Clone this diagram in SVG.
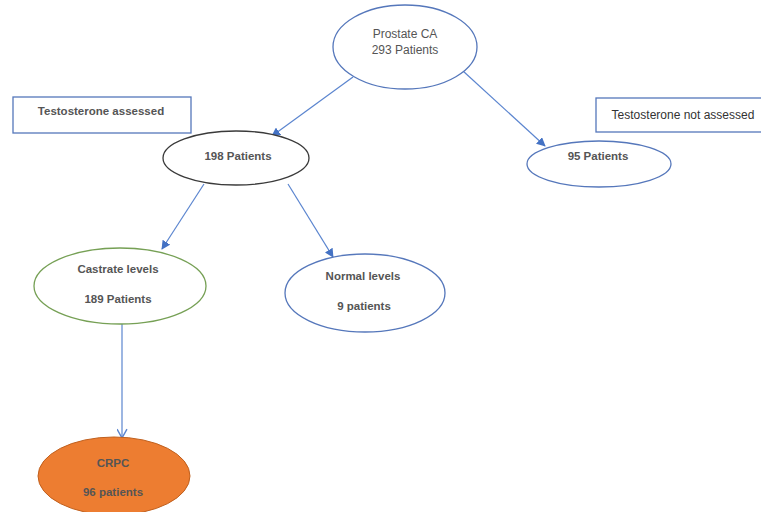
<svg xmlns="http://www.w3.org/2000/svg" width="761" height="512" viewBox="0 0 761 512">
<style>
  .bg{fill:#ffffff}
  .node{fill:#ffffff;stroke-width:1.3}
  .blue{stroke:#5577bb}
  .green{stroke:#76a055}
  .dark{stroke:#3a3a3a}
  .box{fill:#ffffff;stroke:#5577bb;stroke-width:1.3}
  .t{font-family:"Liberation Sans",Arial,sans-serif;font-size:11.5px;fill:#555555;text-anchor:middle}
  .r{font-size:12px}
  .b{font-weight:bold}
  .conn line{stroke:#5b85cf;stroke-width:1.2;fill:none}
</style>
<defs>
  <marker id="ah" viewBox="0 0 10 10" refX="9" refY="5" markerWidth="9" markerHeight="9" markerUnits="userSpaceOnUse" orient="auto">
    <path d="M0,0 L10,5 L0,10 z" fill="#4472c4"/>
  </marker>
  <marker id="av" viewBox="0 0 10 10" refX="9" refY="5" markerWidth="11" markerHeight="11" markerUnits="userSpaceOnUse" orient="auto">
    <path d="M1,0.5 L9,5 L1,9.5" fill="none" stroke="#5b85cf" stroke-width="1.3"/>
  </marker>
</defs>
<rect class="bg" x="0" y="0" width="761" height="512"/>

<g id="connectors" class="conn">
  <line x1="353" y1="77" x2="272" y2="136" marker-end="url(#ah)"/>
  <line x1="463" y1="71" x2="545" y2="146" marker-end="url(#ah)"/>
  <line x1="204" y1="184" x2="162" y2="249" marker-end="url(#ah)"/>
  <line x1="288" y1="184" x2="333" y2="257" marker-end="url(#ah)"/>
  <line x1="122" y1="324" x2="122" y2="438" marker-end="url(#av)"/>
</g>

<g id="prostate">
  <ellipse class="node blue" cx="405" cy="47" rx="72" ry="42"/>
  <text class="t r" x="405" y="38">Prostate CA</text>
  <text class="t r" x="405" y="54">293 Patients</text>
</g>

<g id="label-assessed">
  <rect class="box" x="13" y="97" width="178" height="36"/>
  <text class="t b" x="101" y="115">Testosterone assessed</text>
</g>

<g id="label-not-assessed">
  <rect class="box" x="596" y="98" width="175" height="34"/>
  <text class="t r" x="683" y="119" style="fill:#333333">Testosterone not assessed</text>
</g>

<g id="n198">
  <ellipse class="node dark" cx="236" cy="158" rx="73" ry="27"/>
  <text class="t b" x="238" y="160">198 Patients</text>
</g>

<g id="n95">
  <ellipse class="node blue" cx="599" cy="164" rx="72" ry="23"/>
  <text class="t b" x="598" y="160">95 Patients</text>
</g>

<g id="castrate">
  <ellipse class="node green" cx="120" cy="286" rx="86" ry="38"/>
  <text class="t b" x="118" y="273">Castrate levels</text>
  <text class="t b" x="118" y="303">189 Patients</text>
</g>

<g id="normal">
  <ellipse class="node blue" cx="365" cy="293" rx="80" ry="39"/>
  <text class="t b" x="363" y="280">Normal levels</text>
  <text class="t b" x="364" y="310">9 patients</text>
</g>

<g id="crpc">
  <ellipse cx="114" cy="476" rx="76" ry="39" fill="#ed7d31" stroke="#c0601e" stroke-width="1"/>
  <text class="t b" x="113" y="467">CRPC</text>
  <text class="t b" x="113" y="496">96 patients</text>
</g>
</svg>
